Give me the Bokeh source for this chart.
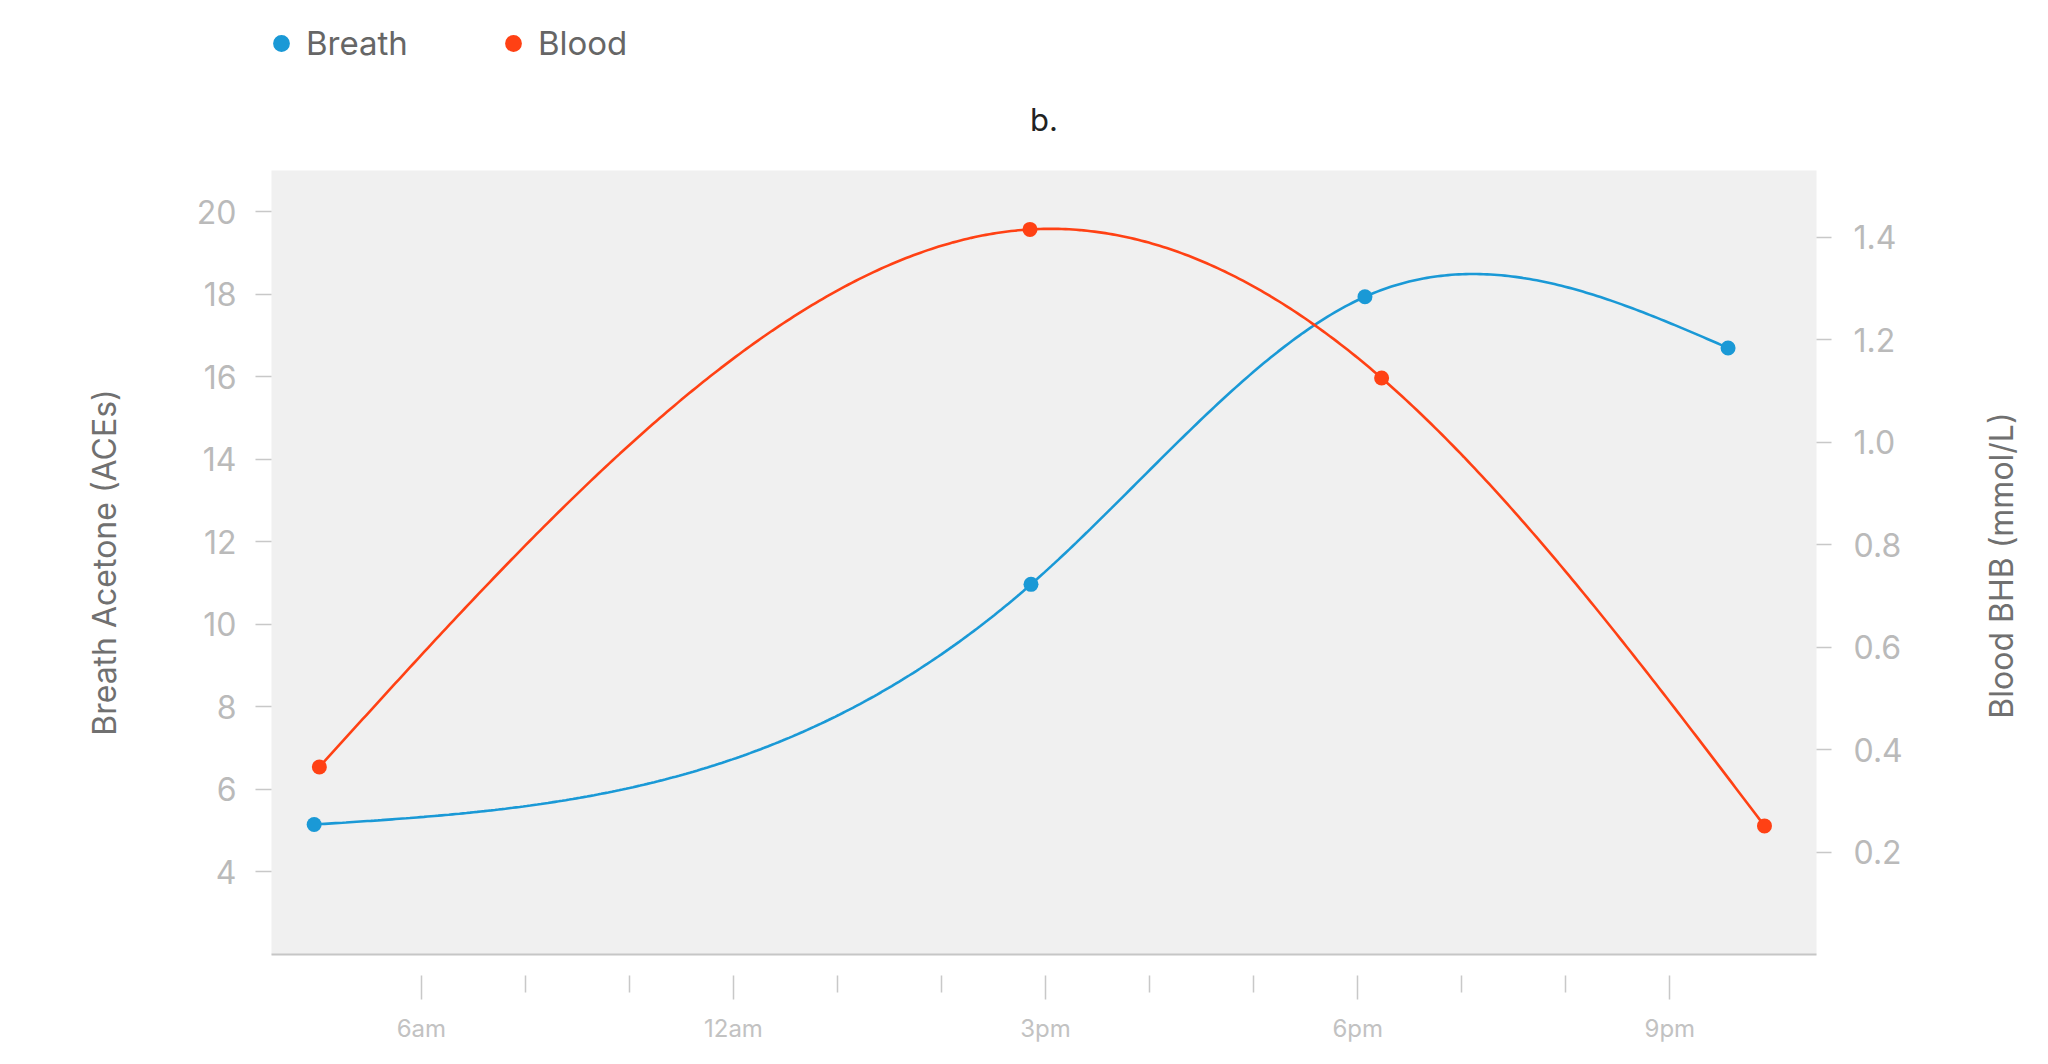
import math
import numpy as np
from bokeh.plotting import figure
from bokeh.layouts import column
from bokeh.models import (Range1d, LinearAxis, FixedTicker, Legend, LegendItem,
                          Label, PrintfTickFormatter)
from bokeh.embed import file_html
from bokeh.resources import INLINE

# ---- data -------------------------------------------------------------
x_tick_positions = [0, 3, 6, 9, 12]
x_tick_labels = ["6am", "12am", "3pm", "6pm", "9pm"]
x_minor_positions = [1, 2, 4, 5, 7, 8, 10, 11]

breath_x = [-1.03, 5.86, 9.07, 12.56]
breath_y = [5.15, 10.97, 17.94, 16.7]      # Breath Acetone (ACEs)

blood_x = [-0.98, 5.85, 9.23, 12.91]
blood_y = [0.366, 1.415, 1.125, 0.251]     # Blood BHB (mmol/L)

left_ticks = [4, 6, 8, 10, 12, 14, 16, 18, 20]
right_ticks = [0.2, 0.4, 0.6, 0.8, 1.0, 1.2, 1.4]

series_names = ["Breath", "Blood"]
chart_title = "b."
left_title = "Breath Acetone (ACEs)"
right_title = "Blood BHB (mmol/L)"

FONT = "Inter"
BLUE = "#1a99d6"
RED = "#ff4114"

W = 2032
HEADER_H = 170
MAIN_H = 878
FRAME_LEFT = 271
FRAME_W = 1545
FRAME_H = 784


def natural_spline(xs, ys, n=400):
    x = np.asarray(xs, float)
    y = np.asarray(ys, float)
    k = len(x)
    h = np.diff(x)
    s = np.diff(y) / h
    A = np.zeros((k, k))
    r = np.zeros(k)
    A[0, 0] = A[-1, -1] = 1.0
    for i in range(1, k - 1):
        A[i, i - 1] = h[i - 1]
        A[i, i] = 2 * (h[i - 1] + h[i])
        A[i, i + 1] = h[i]
        r[i] = 6 * (s[i] - s[i - 1])
    M = np.linalg.solve(A, r)
    xx = np.linspace(x[0], x[-1], n)
    idx = np.clip(np.searchsorted(x, xx) - 1, 0, k - 2)
    hi = h[idx]
    u = (xx - x[idx]) / hi
    yy = ((1 - u) * y[idx] + u * y[idx + 1]
          + hi ** 2 / 6 * (((1 - u) ** 3 - (1 - u)) * M[idx] + (u ** 3 - u) * M[idx + 1]))
    return xx, yy


# ======================= main chart =====================================
p = figure(width=W, height=MAIN_H, output_backend="svg", toolbar_location=None,
           x_range=Range1d(-1.44, 13.41), y_range=Range1d(2, 21),
           min_border_left=FRAME_LEFT, min_border_right=W - FRAME_LEFT - FRAME_W,
           min_border_top=0, min_border_bottom=MAIN_H - FRAME_H,
           title_location=None)
p.extra_y_ranges = {"blood": Range1d(0, 1.53)}

p.background_fill_color = "#f0f0f0"
p.border_fill_color = "white"
p.outline_line_color = None
p.xgrid.visible = False
p.ygrid.visible = False

# ---- x axis
xa = p.xaxis[0]
xa.ticker = FixedTicker(ticks=x_tick_positions, minor_ticks=x_minor_positions)
xa.major_label_overrides = {t: l for t, l in zip(x_tick_positions, x_tick_labels)}
xa.axis_line_color = "#c6c6c6"
xa.axis_line_width = 2
xa.major_tick_in = -21
xa.major_tick_out = 45
xa.minor_tick_in = -21
xa.minor_tick_out = 38
xa.major_tick_line_color = "#c8c8c8"
xa.minor_tick_line_color = "#c8c8c8"
xa.major_tick_line_width = 1.5
xa.minor_tick_line_width = 1.5
xa.major_label_standoff = 14
xa.major_label_text_font = FONT
xa.major_label_text_font_size = "24px"
xa.major_label_text_color = "#c2c2c2"

# ---- left axis
ya = p.yaxis[0]
ya.ticker = FixedTicker(ticks=left_ticks)
ya.axis_line_color = None
ya.major_tick_in = 0
ya.major_tick_out = 16
ya.minor_tick_line_color = None
ya.major_tick_line_color = "#c8c8c8"
ya.major_tick_line_width = 1.5
ya.major_label_standoff = 19
ya.major_label_text_font = FONT
ya.major_label_text_font_size = "32px"
ya.major_label_text_color = "#bababa"
ya.axis_label = left_title
ya.axis_label_text_font = FONT
ya.axis_label_text_font_size = "32px"
ya.axis_label_text_font_style = "normal"
ya.axis_label_text_color = "#707070"
ya.axis_label_standoff = 70

# ---- right axis
ra = LinearAxis(y_range_name="blood", ticker=FixedTicker(ticks=right_ticks),
                formatter=PrintfTickFormatter(format="%.1f"))
ra.axis_line_color = None
ra.major_tick_in = 0
ra.major_tick_out = 15
ra.minor_tick_line_color = None
ra.major_tick_line_color = "#c8c8c8"
ra.major_tick_line_width = 1.5
ra.major_label_standoff = 22
ra.major_label_text_font = FONT
ra.major_label_text_font_size = "32px"
ra.major_label_text_color = "#bababa"
p.add_layout(ra, "right")

# right-hand axis title, reading bottom-to-top, in the right side panel
rt = Label(x=96, y=FRAME_H / 2 - 3, x_units="screen", y_units="screen",
           text=right_title, angle=90, angle_units="deg",
           text_align="center", text_baseline="middle",
           text_font=FONT, text_font_size="32px", text_color="#707070")
p.add_layout(rt, "right")

# ---- series
bx, by = natural_spline(breath_x, breath_y)
p.line(bx, by, line_color=BLUE, line_width=2.6)
p.scatter(breath_x, breath_y, size=15, fill_color=BLUE, line_color=None)

dx, dy = natural_spline(blood_x, blood_y)
p.line(dx, dy, line_color=RED, line_width=2.6, y_range_name="blood")
p.scatter(blood_x, blood_y, size=15, fill_color=RED, line_color=None,
          y_range_name="blood")

# ======================= header (legend + title) ========================
h = figure(width=W, height=HEADER_H, output_backend="svg", toolbar_location=None,
           x_range=Range1d(0, 1), y_range=Range1d(0, 1),
           x_axis_location=None, y_axis_location=None, min_border=0,
           title_location=None)
h.outline_line_color = None
h.xgrid.visible = False
h.ygrid.visible = False
h.background_fill_color = "white"
h.border_fill_color = "white"

# legend swatches only (their single point lies outside the header's ranges)
lg_breath = h.scatter(x=[-5], y=[-5], size=15, fill_color=BLUE, line_color=None)
lg_blood = h.scatter(x=[-5], y=[-5], size=15, fill_color=RED, line_color=None)

legend = Legend(items=[LegendItem(label=series_names[0], renderers=[lg_breath]),
                       LegendItem(label=series_names[1], renderers=[lg_blood])],
                orientation="horizontal", location=(-11, HEADER_H - 64),
                glyph_width=42, glyph_height=42, label_standoff=4, spacing=84,
                padding=0, margin=0, border_line_color=None,
                background_fill_alpha=0, label_text_font=FONT,
                label_text_font_size="33px", label_text_color="#666666")
h.add_layout(legend)

title_label = Label(x=FRAME_W / 2, y=51.5,
                    x_units="screen", y_units="screen", text=chart_title,
                    text_align="center", text_baseline="alphabetic",
                    text_font=FONT, text_font_size="31px", text_color="#222222")
h.add_layout(title_label)

open("out.html", "w").write(file_html(column(h, p, spacing=0), INLINE))
